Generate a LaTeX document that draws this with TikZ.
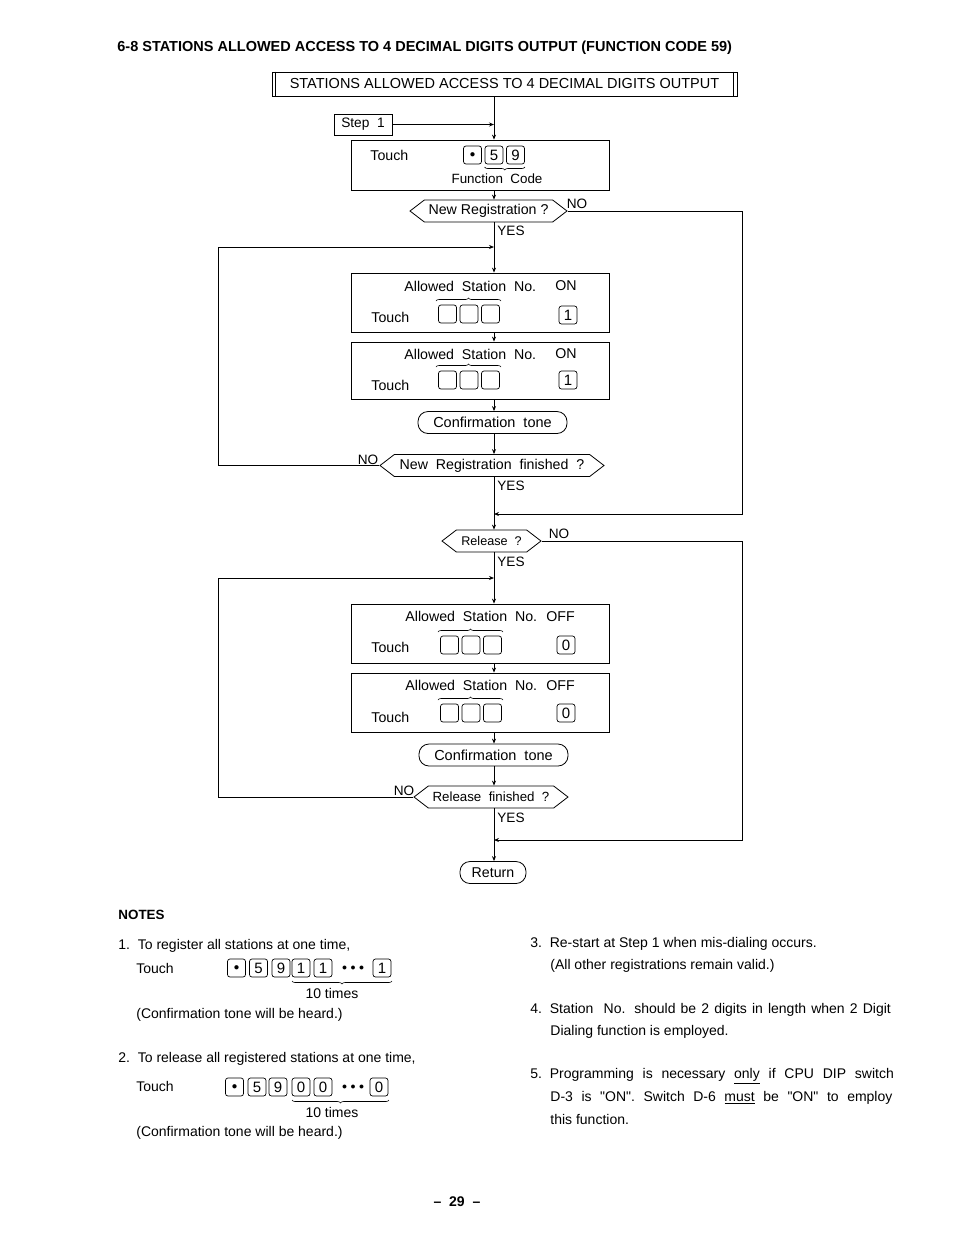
\documentclass[tikz,border=0pt]{standalone}
\usepackage{fontspec}
\setmainfont{Liberation Sans}
\usepackage{xcolor}
\usepackage{tikz}
\usetikzlibrary{shapes.symbols,arrows.meta,decorations.pathreplacing}

\newcommand{\keydot}{\fontsize{11}{11}\selectfont$\bullet$}
\newcommand{\keydots}{\fontsize{10}{10}\selectfont$\bullet$\hspace{3.5pt}$\bullet$\hspace{3.5pt}$\bullet$}

\begin{document}
\begin{tikzpicture}[x=1pt,y=-1pt,line width=0.8pt,
                    font=\fontsize{14.2}{16}\selectfont,
                    mybox/.style={draw, minimum width=258pt,
                                  minimum height=#1, inner sep=0pt},
                    mydecision/.style={draw, signal, signal to=west and east,
                                       signal pointer angle=75, inner sep=1pt,
                                       minimum height=22pt, minimum width=#1},
                    myterminal/.style={draw, rounded corners=10pt,
                                       minimum height=22pt, minimum width=#1,
                                       inner sep=0pt},
                    mykey/.style={draw, rounded corners=2.5pt, minimum width=18pt,
                                  minimum height=18pt, inner sep=0pt,
                                  line width=0.7pt, font=\fontsize{15}{15}\selectfont},
                    myarrow/.style={-{Stealth[length=5pt,width=4pt]}},
                    mybrace/.style={decorate, decoration={brace, amplitude=3pt},
                                    line width=0.6pt},
                    mylabel/.style={inner sep=0pt},
                    mynote/.style={anchor=west, inner sep=0pt,
                                   font=\fontsize{14}{16}\selectfont}
                    ]
  \useasboundingbox (0,0) rectangle (954,1235);
  \coordinate (spine) at (494,0);

  \node[anchor=west, mylabel, font=\bfseries\fontsize{14.5}{16}\selectfont]
    (pageTitle) at (117,48)
    {6-8 STATIONS ALLOWED ACCESS TO 4 DECIMAL DIGITS OUTPUT (FUNCTION CODE 59)};

  % header with double bars
  \node[draw, minimum width=465pt, minimum height=24pt, inner sep=0pt,
        font=\fontsize{14.5}{16}\selectfont]
    (hdrBox) at (504.5,84) {STATIONS ALLOWED ACCESS TO 4 DECIMAL DIGITS OUTPUT};
  \draw ([xshift=4pt]hdrBox.north west) -- ([xshift=4pt]hdrBox.south west);
  \draw ([xshift=-4pt]hdrBox.north east) -- ([xshift=-4pt]hdrBox.south east);

  \node[draw, minimum width=58pt, minimum height=21pt, inner sep=0pt,
        font=\fontsize{13.7}{15}\selectfont]
    (stepOne) at (363,124.5) {Step~ 1};

  % function code
  \node[mybox=50pt] (touchCode) at (480,165) {};
  \node[anchor=west, mylabel] (touchCodeLbl) at (370,155) {Touch};
  \node[mykey] (codeDot) at (472.5,155) {\keydot};
  \node[mykey] (codeFive) at (494,155) {5};
  \node[mykey] (codeNine) at (515.5,155) {9};
  \draw[mybrace] (codeNine.south east |- 0,167) -- (codeFive.south west |- 0,167);
  \node[mylabel, font=\fontsize{13.4}{15}\selectfont] (codeLbl) at (497,179) {Function~ Code};

  \node[mydecision=157pt] (newReg) at (488.5,211) {New Registration ?};
  \node[mylabel, font=\fontsize{13.6}{15}\selectfont] (newRegNo) at (577,204) {NO};
  \node[anchor=west, mylabel, font=\fontsize{13.6}{15}\selectfont] (newRegYes) at (497,231) {YES};

  % allowed station ON
  \node[mybox=59pt] (onA) at (480,302.5) {};
  \node[anchor=west, mylabel] (onATxt) at (404,286) {Allowed~ Station~ No.};
  \node[mylabel] (onAOn) at (566,286) {ON};
  \node[anchor=west, mylabel] (onATouch) at (371,317) {Touch};
  \node[mykey] (onAk1) at (447.5,314) {};
  \node[mykey] (onAk2) at (469,314) {};
  \node[mykey] (onAk3) at (490.5,314) {};
  \draw[mybrace] (436,301) -- (501,301);
  \node[mykey] (onAOne) at (568,315) {1};

  \node[mybox=57pt] (onB) at (480,370.5) {};
  \node[anchor=west, mylabel] (onBTxt) at (404,354) {Allowed~ Station~ No.};
  \node[mylabel] (onBOn) at (566,354) {ON};
  \node[anchor=west, mylabel] (onBTouch) at (371,385) {Touch};
  \node[mykey] (onBk1) at (447.5,380) {};
  \node[mykey] (onBk2) at (469,380) {};
  \node[mykey] (onBk3) at (490.5,380) {};
  \draw[mybrace] (436,367) -- (501,367);
  \node[mykey] (onBOne) at (568,380) {1};

  \node[myterminal=149pt, font=\fontsize{14.5}{16}\selectfont] (confOne) at (492.5,422.5) {Confirmation~ tone};
  \node[mydecision=224pt] (newRegEnd) at (492,465.5) {New~ Registration~ finished~ ?};
  \node[mylabel, font=\fontsize{13.6}{15}\selectfont] (newRegEndNo) at (368,460) {NO};
  \node[anchor=west, mylabel, font=\fontsize{13.6}{15}\selectfont] (newRegEndYes) at (497,486) {YES};

  \node[mydecision=99pt, font=\fontsize{12.6}{14}\selectfont] (relQ) at (491.5,541) {Release~ ?};
  \node[mylabel, font=\fontsize{13.6}{15}\selectfont] (relQNo) at (559,534) {NO};
  \node[anchor=west, mylabel, font=\fontsize{13.6}{15}\selectfont] (relQYes) at (497,562) {YES};

  % allowed station OFF
  \node[mybox=59pt] (offA) at (480,633.5) {};
  \node[anchor=west, mylabel] (offATxt) at (405,616) {Allowed~ Station~ No.~ OFF};
  \node[anchor=west, mylabel] (offATouch) at (371,647) {Touch};
  \node[mykey] (offAk1) at (449.5,645) {};
  \node[mykey] (offAk2) at (471,645) {};
  \node[mykey] (offAk3) at (492.5,645) {};
  \draw[mybrace] (438,632) -- (503,632);
  \node[mykey] (offAZero) at (566,645) {0};

  \node[mybox=59pt] (offB) at (480,702.5) {};
  \node[anchor=west, mylabel] (offBTxt) at (405,685) {Allowed~ Station~ No.~ OFF};
  \node[anchor=west, mylabel] (offBTouch) at (371,717) {Touch};
  \node[mykey] (offBk1) at (449.5,713) {};
  \node[mykey] (offBk2) at (471,713) {};
  \node[mykey] (offBk3) at (492.5,713) {};
  \draw[mybrace] (438,700) -- (503,700);
  \node[mykey] (offBZero) at (566,713) {0};

  \node[myterminal=149pt, font=\fontsize{14.5}{16}\selectfont] (confTwo) at (493.5,755) {Confirmation~ tone};
  \node[mydecision=154pt, font=\fontsize{13.3}{15}\selectfont] (relEnd) at (491,797) {Release~ finished~ ?};
  \node[mylabel, font=\fontsize{13.6}{15}\selectfont] (relEndNo) at (404,791) {NO};
  \node[anchor=west, mylabel, font=\fontsize{13.6}{15}\selectfont] (relEndYes) at (497,818) {YES};

  \node[myterminal=66pt] (retEnd) at (493,872.5) {Return};

  % main line
  \draw[myarrow] (stepOne.east) -- (stepOne.east -| spine);
  \draw[myarrow] (hdrBox.south -| spine) -- (touchCode.north -| spine);
  \draw[myarrow] (touchCode.south -| spine) -- (newReg.north -| spine);
  \draw[myarrow] (newReg.south -| spine) -- (onA.north -| spine);
  \draw[myarrow] (onA.south -| spine) -- (onB.north -| spine);
  \draw[myarrow] (onB.south -| spine) -- (confOne.north -| spine);
  \draw[myarrow] (confOne.south -| spine) -- (newRegEnd.north -| spine);
  \draw[myarrow] (newRegEnd.south -| spine) -- (relQ.north -| spine);
  \draw[myarrow] (relQ.south -| spine) -- (offA.north -| spine);
  \draw[myarrow] (offA.south -| spine) -- (offB.north -| spine);
  \draw[myarrow] (offB.south -| spine) -- (confTwo.north -| spine);
  \draw[myarrow] (confTwo.south -| spine) -- (relEnd.north -| spine);
  \draw[myarrow] (relEnd.south -| spine) -- (retEnd.north -| spine);

  % loops
  \coordinate (loopOn) at (218,247);
  \coordinate (skipOn) at (742,514);
  \coordinate (loopOff) at (218,578);
  \coordinate (skipOff) at (742,840);
  \draw[myarrow] (newRegEnd.west) -| (loopOn) -- (loopOn -| spine);
  \draw[myarrow] (newReg.east) -| (skipOn) -- (skipOn -| spine);
  \draw[myarrow] (relEnd.west) -| (loopOff) -- (loopOff -| spine);
  \draw[myarrow] (relQ.east) -| (skipOff) -- (skipOff -| spine);

  % notes
  \node[anchor=west, mylabel, font=\bfseries\fontsize{13.4}{15}\selectfont]
    (notesHd) at (118,915) {NOTES};
  \node[mynote] (noteOne) at (118,946) {1.\ \ To register all stations at one time,};
  \node[mynote] (noteOneTouch) at (136,968) {Touch};
  \node[mykey] (nOneDot) at (236.5,968) {\keydot};
  \node[mykey] (nOneFive) at (258.5,968) {5};
  \node[mykey] (nOneNine) at (281,968) {9};
  \node[mykey] (nOneA) at (301,968) {1};
  \node[mykey] (nOneB) at (323,968) {1};
  \node[mylabel] (nOneDots) at (353,968) {\keydots};
  \node[mykey] (nOneC) at (382,968) {1};
  \draw[mybrace] (392,981) -- (292,981);
  \node[mylabel, font=\fontsize{14}{16}\selectfont] (nOneTimes) at (332,993) {10 times};
  \node[mynote] (nOneConf) at (136,1015) {(Confirmation tone will be heard.)};

  \node[mynote] (noteTwo) at (118,1059) {2.\ \ To release all registered stations at one time,};
  \node[mynote] (noteTwoTouch) at (136,1086) {Touch};
  \node[mykey] (nTwoDot) at (234.5,1087) {\keydot};
  \node[mykey] (nTwoFive) at (257,1087) {5};
  \node[mykey] (nTwoNine) at (278,1087) {9};
  \node[mykey] (nTwoA) at (301,1087) {0};
  \node[mykey] (nTwoB) at (323,1087) {0};
  \node[mylabel] (nTwoDots) at (353,1087) {\keydots};
  \node[mykey] (nTwoC) at (379,1087) {0};
  \draw[mybrace] (389,1100) -- (292,1100);
  \node[mylabel, font=\fontsize{14}{16}\selectfont] (nTwoTimes) at (332,1112) {10 times};
  \node[mynote] (nTwoConf) at (136,1133) {(Confirmation tone will be heard.)};

  \node[mynote] (noteThree) at (530,944) {3.\ \ Re-start at Step 1 when mis-dialing occurs.};
  \node[mynote] (noteThreeB) at (550,966) {(All other registrations remain valid.)};
  \node[mynote] (noteFour) at (530,1010)
    {4.\ \ \makebox[341pt][s]{Station~ No. should be 2 digits in length when 2 Digit}};
  \node[mynote] (noteFourB) at (550,1032) {Dialing function is employed.};
  \node[mynote] (noteFive) at (530,1076)
    {5.\ \ \makebox[344pt][s]{Programming is necessary \underline{only} if CPU DIP switch}};
  \node[mynote] (noteFiveB) at (550,1098)
    {\makebox[342pt][s]{D-3 is \textquotedbl ON\textquotedbl. Switch D-6 \underline{must} be \textquotedbl ON\textquotedbl\ to employ}};
  \node[mynote] (noteFiveC) at (550,1119) {this function.};

  \node[mylabel, font=\bfseries\fontsize{14}{16}\selectfont] (pageNum) at (457,1202) {--\ \ 29\ \ --};
\end{tikzpicture}
\end{document}
